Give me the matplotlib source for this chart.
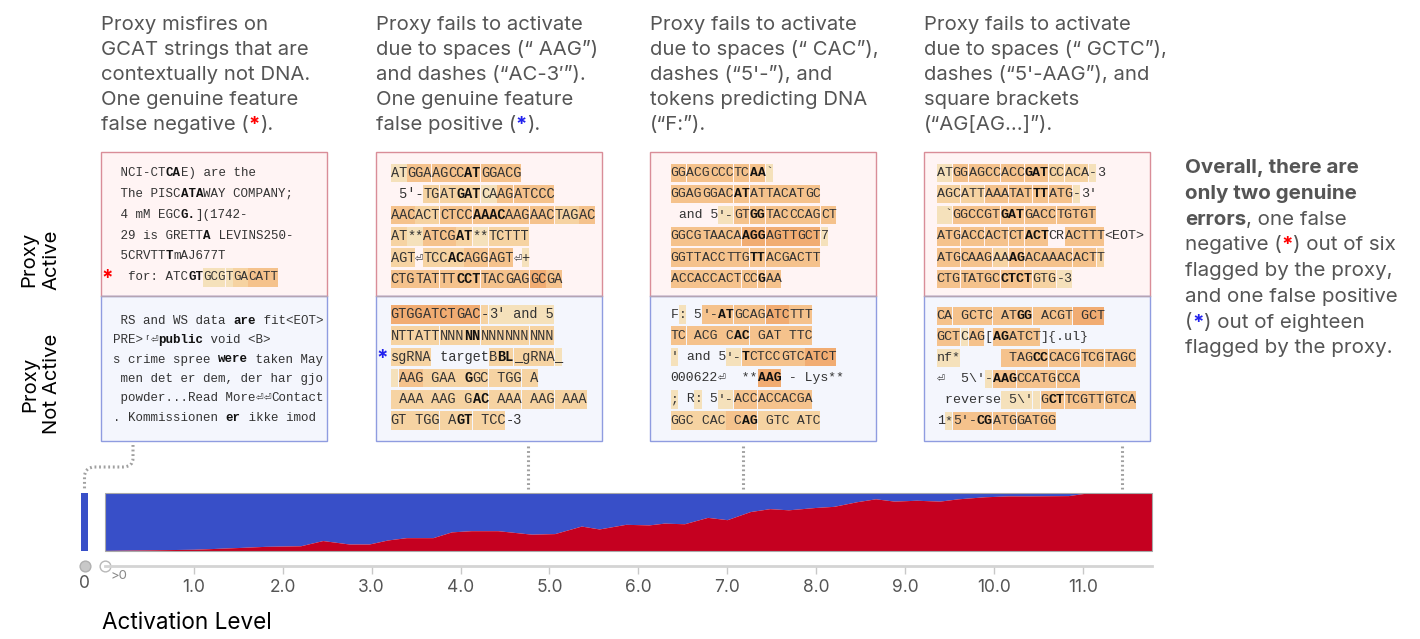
import numpy as np
import matplotlib.pyplot as plt
from matplotlib.patches import Rectangle, PathPatch
from matplotlib.path import Path

# share of tokens the proxy flags as active, per activation level bin
levels = [0.0, 0.5, 1.0, 1.5, 1.8, 2.2, 2.45, 2.75, 2.97, 3.18, 3.39, 3.69, 3.9,
          4.12, 4.42, 4.8, 5.06, 5.36, 5.56, 5.86, 6.12, 6.29, 6.52, 6.78, 7.0,
          7.26, 7.48, 7.69, 7.99, 8.2, 8.46, 8.67, 8.88, 9.13, 9.39, 9.6, 9.9,
          10.16, 10.41, 10.84, 11.05, 11.78]
active_share = [0.01, 0.02, 0.03, 0.06, 0.08, 0.09, 0.18, 0.12, 0.12, 0.19, 0.23,
                0.23, 0.33, 0.35, 0.35, 0.29, 0.30, 0.43, 0.38, 0.46, 0.45, 0.48,
                0.47, 0.58, 0.54, 0.68, 0.73, 0.71, 0.75, 0.77, 0.85, 0.90, 0.86,
                0.875, 0.86, 0.90, 0.935, 0.95, 0.95, 0.955, 1.0, 1.0]
zero_not_active = 1.0
tick_levels = [1.0, 2.0, 3.0, 4.0, 5.0, 6.0, 7.0, 8.0, 9.0, 10.0, 11.0]
example_levels = [0.0, 4.76, 7.18, 11.44]

headers = [
    [[("Proxy misfires on", "n")], [("GCAT strings that are", "n")],
     [("contextually not DNA.", "n")], [("One genuine feature", "n")],
     [("false negative (", "n"), ("*", "red"), (").", "n")]],
    [[("Proxy fails to activate", "n")], [("due to spaces (\u201c AAG\u201d)", "n")],
     [("and dashes (\u201cAC-3\u2032\u201d).", "n")], [("One genuine feature", "n")],
     [("false positive (", "n"), ("*", "blue"), (").", "n")]],
    [[("Proxy fails to activate", "n")], [("due to spaces (\u201c CAC\u201d),", "n")],
     [("dashes (\u201c5'-\u201d), and", "n")], [("tokens predicting DNA", "n")],
     [("(\u201cF:\u201d).", "n")]],
    [[("Proxy fails to activate", "n")], [("due to spaces (\u201c GCTC\u201d),", "n")],
     [("dashes (\u201c5'-AAG\u201d), and", "n")], [("square brackets", "n")],
     [("(\u201cAG[AG...]\u201d).", "n")]],
]

summary = [
    [("Overall, there are", "b")],
    [("only two genuine", "b")],
    [("errors", "b"), (", one false", "n")],
    [("negative (", "n"), ("*", "red"), (") out of six", "n")],
    [("flagged by the proxy,", "n")],
    [("and one false positive", "n")],
    [("(", "n"), ("*", "blue"), (") out of eighteen", "n")],
    [("flagged by the proxy.", "n")],
]

# token lines: "/" splits tokens, "|" toggles bold; one shade digit per token
box_active = [
    [(" NCI-CT|CA|E) are the", "0"), (" The PISC|ATA|WAY COMPANY;", "0"),
     (" 4 mM EGC|G.|](1742-", "0"), (" 29 is GRETT|A| LEVINS250-", "0"),
     (" 5CRVTT|T|mAJ677T", "0"), ("  for: ATC|GT|/GCG/T/GA/CATT", "01123")],
    [("AT/GGA/AG/CC/|AT|/GG/ACG", "1333333"), (" 5\u2032-/TG/AT/|GAT|/CA/AG/ATCCC", "0222133"),
     ("AAC/ACT/CTCC/|AAAC|/AAG/AAC/TAG/AC", "32333323"), ("AT/**/ATCG/|AT|/**/TCTTT", "213212"),
     ("AGT/\u23ce/TCC/|AC|/AGG/AGT/\u23ce/+", "20223301"), ("CTG/TAT/TT/|CCT|/TAC/GAG/GC/GA", "33333343")],
    [("GG/ACG/CCC/TC/|AA|/`", "333331"), ("GGAG/GGAC/|AT|/ATT/ACAT/GC", "333333"),
     (" and 5/\u2032-/GT/|GG|/TAC/CCAG/CT", "0133333"), ("GGCG/TAACA/|AGG|/AGTT/GCT/7", "334441"),
     ("GGTT/ACC/TTG/|TT|/ACG/ACTT", "333333"), ("ACC/ACC/ACT/CC/|G|/AA", "333333")],
    [("AT/GG/AGCC/ACC/|GAT|/CC/ACA/-/3", "133332210"), ("AGC/ATT/AAA/TAT/|TT|/ATG/-/3\u2032", "22333310"),
     (" `/GGCCGT/|GAT|/GACC/TGTGT", "13333"), ("ATG/ACC/ACT/CT/|ACT|/CR/ACTTT/<EOT>", "33333030"),
     ("ATG/CAAG/AA/|AG|/ACAAAC/ACT/T", "3323332"), ("CTG/TATGC/|CTCT|/GTG/-3", "33321")],
]
box_not_active = [
    [(" RS and WS data |are| fit<EOT>", "0"), ("PRE>/\u02b3/\u23ce/|public| void <B>", "0000"),
     ("s crime spree |were| taken May", "0"), (" men det er dem, der har gjo", "0"),
     (" powder...Read More/\u23ce/\u23ce/Contact", "0000"), (". Kommissionen |er| ikke imod", "0")],
    [("GTGG/ATCT/GAC/-/3'/ and 5", "444211"), ("NTT/ATT/NNN/|NN|/NNN/NNN/NNN", "2222222"),
     ("sgRNA/ target/B/|BL|/_gRNA/_", "202221"), (" /AAG/ GAA/ |G|GC/ TGG/ A", "132222"),
     (" AAA/ AAG/ G|AC|/ AAA/ AAG/ AAA", "222222"), ("GT/ TGG/ A|GT|/ TCC/-3", "22220")],
    [("F/:/ 5/\u2032-|AT|/GCAG/ATC/TTT", "0103343"), ("TC/ ACG/ C|AC|/ GAT/ TTC", "33333"),
     ("'/ and 5/'-/|T|CTCC/GTC/ATCT", "101334"), ("000622/\u23ce/  **/|AAG|/ - Lys**", "00040"),
     (";/ R/:/ 5/\u2032-/ACC/ACC/ACGA", "10101333"), ("GGC/ CAC/ C|AG|/ GTC/ ATC", "22322")],
    [("CA/ GCTC/ AT|GG|/ ACGT/ GCT", "33334"), ("GCT/C/AG/[/|AG|ATCT/]{.ul}", "313030"),
     ("nf*/     / TAG|CC|/CACG/TCG/TAGC", "103333"), ("\u23ce  5\\'/-/|AAG|/CCATG/CCA", "01333"),
     (" reverse/ 5\\'/ /G|CT|/TCGTT/GTCA", "011333"), ("1/*/5\u2032-|CG|/ATG/GATGG", "01333")],
]
# (box, section, line) of the two genuine errors
error_marks = [(0, "active", 5, "red"), (1, "not", 2, "blue")]

shade_colors = {"1": "#f5e1bb", "2": "#f6d3a2", "3": "#f5c28c", "4": "#f1ac72", "5": "#ec9a60"}
red = "#c50020"
blue = "#384fc8"
grey_text = "#555555"
mono = ["Liberation Mono", "DejaVu Sans Mono", "DejaVu Sans"]

W, H = 1420, 639
fig = plt.figure(figsize=(W / 100, H / 100), dpi=100)


def px_axes(x0, y0, x1, y1):
    return fig.add_axes([x0 / W, 1 - y1 / H, (x1 - x0) / W, (y1 - y0) / H])


ov = px_axes(0, 0, W, H)
ov.set_xlim(0, W)
ov.set_ylim(H, 0)
ov.axis("off")

# main stacked bar
ax = px_axes(105, 493, 1152, 551)
ax.fill_between(levels, 0, active_share, color=red, lw=0, zorder=2)
ax.fill_between(levels, active_share, 1, color=blue, lw=0, zorder=1)
ax.set_xlim(levels[0], levels[-1])
ax.set_ylim(0, 1)
for s in ["top", "left", "right"]:
    ax.spines[s].set_visible(False)
ax.spines["bottom"].set_position(("outward", 11))
ax.spines["bottom"].set_color("#d4d4d4")
ax.spines["bottom"].set_linewidth(2)
ax.set_yticks([])
ax.set_xticks(tick_levels)
ax.set_xticklabels([f"{t:.1f}" for t in tick_levels])
ax.tick_params(axis="x", length=6, width=1, colors="#c8c8c8", labelcolor=grey_text,
               labelsize=12.5, pad=3)
for lab in ax.get_xticklabels():
    lab.set_fontfamily("Inter")
ax.add_patch(Rectangle((0, 0), 1, 1, transform=ax.transAxes, fill=False,
                       ec="#a8a8a8", lw=0.8, zorder=3, clip_on=False))
ax.set_xlabel("Activation Level", fontsize=16.2, family="Inter", color="black",
              loc="left")
ax.xaxis.set_label_coords(-0.003, -1.05)

# level-zero bar
ax0 = px_axes(81, 493, 88, 551)
ax0.bar([0], [zero_not_active], width=1, color=blue)
ax0.set_xlim(-0.5, 0.5)
ax0.set_ylim(0, 1)
ax0.axis("off")


def data_px(xv):
    return ax.transData.transform((xv, 0))[0]


zero_px = (81 + 88) / 2
ov.scatter([zero_px], [566], s=60, color="#c8c8c8", ec="#b0b0b0", zorder=5)
ov.scatter([data_px(0.0)], [566], s=60, color="white", ec="#b8b8b8", lw=1, zorder=5)
ov.text(zero_px, 583, "0", ha="center", va="center", fontsize=12.5, color=grey_text,
        family="Inter")
ov.text(data_px(0.0) + 6, 576, ">0", ha="left", va="center", fontsize=9.5,
        color="#888888", family="Inter")


def rich(x, y, pieces, size):
    prev = None
    for txt, style in pieces:
        kw = dict(fontsize=size, family="Inter", va="baseline", ha="left",
                  color={"red": "red", "blue": "#2222ee"}.get(style, grey_text),
                  fontweight="bold" if style in ("b", "red", "blue") else "normal")
        if prev is None:
            prev = ov.text(x, y, txt, **kw)
        else:
            prev = ov.annotate(txt, xy=(1, y), xycoords=(prev, "data"), **kw)


box_left = [101, 375.5, 649.5, 924]
box_w = 226
text_off = [12.3, 15.2, 21.2, 12.7]
char_w = [7.5, 8.19, 7.9, 8.0]
red_lines = [(173.2, 20.8), (172.8, 21.2), (172.8, 21.2), (172.8, 21.2)]
blue_lines = [(320.7, 19.4), (314.5, 21.2), (314.5, 21.2), (316.0, 21.0)]
box_top, box_mid, box_bot = 152, 296, 441

for i in range(4):
    for k, pieces in enumerate(headers[i]):
        rich(box_left[i], 29.5 + 25.2 * k, pieces, 14.6)

    x0 = box_left[i]
    ov.add_patch(Rectangle((x0, box_top), box_w, box_mid - box_top, fc="#fff4f4",
                           ec="#d98d98", lw=1))
    ov.add_patch(Rectangle((x0, box_mid), box_w, box_bot - box_mid, fc="#f4f6fd",
                           ec="#8f9ce0", lw=1))
    ov.plot([x0, x0 + box_w], [box_mid, box_mid], color="#b4a4b4", lw=1)

    cw = char_w[i]
    fs = cw / 0.6 * 0.72
    for lines, (y_start, step) in ((box_active[i], red_lines[i]),
                                   (box_not_active[i], blue_lines[i])):
        for j, (line, shades) in enumerate(lines):
            y = y_start + step * j
            col = 0
            for tok, sh in zip(line.split("/"), shades):
                n = len(tok.replace("|", ""))
                xt = x0 + text_off[i] + col * cw
                if sh != "0":
                    ov.add_patch(Rectangle((xt, y - 9.3), n * cw - 0.5, 18.6,
                                           fc=shade_colors[sh], ec="none", zorder=2))
                bold = False
                sub = 0
                for part in tok.split("|"):
                    if part:
                        ov.text(xt + sub * cw, y, part, family=mono, fontsize=fs,
                                ha="left", va="center", zorder=3,
                                color="#111111" if bold else "#333333",
                                fontweight="bold" if bold else "normal")
                    sub += len(part)
                    bold = not bold
                col += n

for bi, sec, li, colr in error_marks:
    y0, step = red_lines[bi] if sec == "active" else blue_lines[bi]
    ov.text(box_left[bi] + 6.5, y0 + step * li + 2, "*", ha="center", va="center",
            fontsize=15, fontweight="bold", family="Inter",
            color="red" if colr == "red" else "#2222ee")

# connectors from the example boxes to their activation levels
dots = dict(color="#a0a0a0", lw=2.2, ls=(0, (0.6, 0.9)))
for xv in example_levels[1:]:
    xp = data_px(xv)
    ov.plot([xp, xp], [446, 489], **dots)
bx = 133
verts = [(bx, 445), (bx, 458), (bx, 467), (bx - 10, 467), (zero_px + 10, 467),
         (zero_px, 467), (zero_px, 477), (zero_px, 489)]
codes = [Path.MOVETO, Path.LINETO, Path.CURVE3, Path.CURVE3, Path.LINETO,
         Path.CURVE3, Path.CURVE3, Path.LINETO]
ov.add_patch(PathPatch(Path(verts, codes), fill=False, ec="#a0a0a0", lw=2.2,
                       ls=(0, (0.6, 0.9))))

# row labels
ov.text(40, 290, "Proxy\nActive", rotation=90, ha="center", va="bottom",
        fontsize=14.6, family="Inter", color="black", linespacing=1.3)
ov.text(41, 434, "Proxy\nNot Active", rotation=90, ha="center", va="bottom",
        fontsize=14.6, family="Inter", color="black", linespacing=1.3)

for k, pieces in enumerate(summary):
    rich(1185, 173.3 + 25.7 * k, pieces, 14.8)

plt.savefig("out.png", dpi=100)
plt.close()
